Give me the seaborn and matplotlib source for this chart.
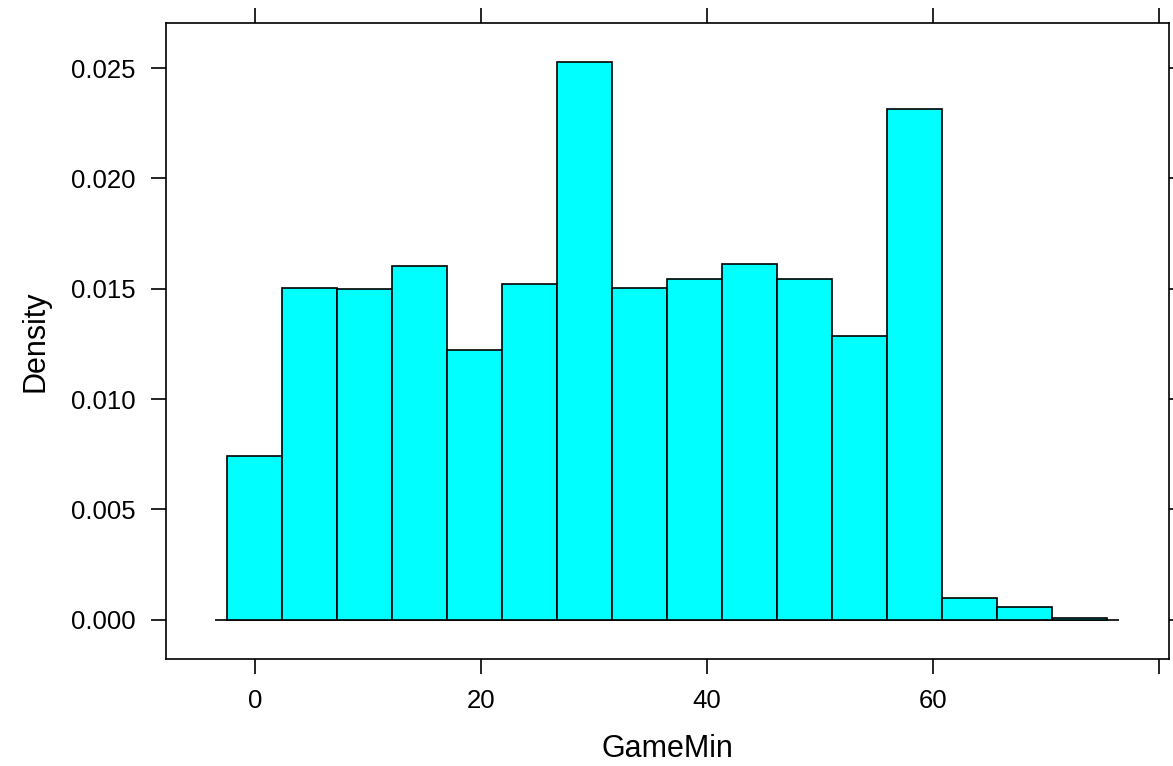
import matplotlib
matplotlib.use("Agg")
import matplotlib.pyplot as plt
import seaborn as sns

# bin edges of the histogram (GameMin) and the density of each bin
bin_edges = [-2.45, 2.42, 7.29, 12.15, 17.02, 21.89, 26.75, 31.62, 36.48,
             41.35, 46.22, 51.08, 55.95, 60.82, 65.68, 70.55, 75.42]
density = [0.00743, 0.01505, 0.01497, 0.01603, 0.01224, 0.01520, 0.02526, 0.01502,
           0.01546, 0.01612, 0.01543, 0.01287, 0.02315, 0.00097, 0.00056, 0.00008]
bin_mids = [(a + b) / 2 for a, b in zip(bin_edges[:-1], bin_edges[1:])]

x_ticks = [0, 20, 40, 60, 80]
x_labels = ["0", "20", "40", "60", ""]
y_ticks = [0.000, 0.005, 0.010, 0.015, 0.020, 0.025]
y_labels = ["0.000", "0.005", "0.010", "0.015", "0.020", "0.025"]

sns.set_style("white")
plt.rcParams["font.family"] = ["Liberation Sans", "DejaVu Sans"]

fig = plt.figure(figsize=(11.73, 7.66), dpi=100)
ax = fig.add_axes([0.1413, 0.1401, 0.8553, 0.8295])

sns.histplot(x=bin_mids, weights=density, bins=bin_edges, stat="count",
             color="#00FFFF", alpha=1, edgecolor="black", linewidth=1.2, ax=ax)

# baseline at zero
ax.hlines(0, -3.54, 76.5, color="black", linewidth=1.2, zorder=0)

ax.set_xlim(-7.9, 80.9)
ax.set_ylim(-0.00177, 0.02703)
ax.set_xticks(x_ticks)
ax.set_xticklabels(x_labels)
ax.set_yticks(y_ticks)
ax.set_yticklabels(y_labels)

ax.tick_params(axis="both", direction="out", length=10.8, width=1.2, color="black",
               labelsize=18.5, labelcolor="black", pad=10.8,
               top=True, right=True, bottom=True, left=True)
for s in ax.spines.values():
    s.set_visible(True)
    s.set_color("black")
    s.set_linewidth(1.2)

ax.set_xlabel("GameMin", fontsize=22, labelpad=15, color="black")
ax.set_ylabel("Density", fontsize=22, labelpad=15, color="black")
ax.grid(False)

fig.savefig("out.png", dpi=100)
